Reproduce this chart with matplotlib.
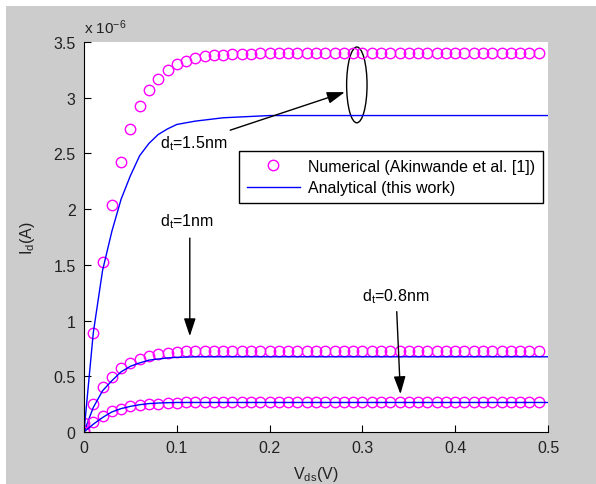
import numpy as np
import matplotlib
matplotlib.use('Agg')
import matplotlib.pyplot as plt
from matplotlib.patches import Ellipse, Rectangle

plt.rcParams['font.family'] = ['Liberation Sans', 'DejaVu Sans']
plt.rcParams['mathtext.default'] = 'regular'

# numerical points, Vds step 0.01 V, current in 1e-6 A
vds_num = np.round(np.arange(50) * 0.01, 2)
id_num_15 = [0.08, 0.89, 1.53, 2.04, 2.42, 2.72, 2.93, 3.07, 3.17, 3.25,
             3.30, 3.33, 3.36, 3.37, 3.38, 3.385, 3.39, 3.39, 3.395] + [3.40] * 31
id_num_10 = [0.02, 0.25, 0.40, 0.49, 0.57, 0.62, 0.655, 0.68, 0.70, 0.71,
             0.72, 0.725] + [0.73] * 38
id_num_08 = [0.0, 0.09, 0.14, 0.19, 0.21, 0.23, 0.245, 0.25, 0.255, 0.26,
             0.262] + [0.265] * 39

# analytical curves
vds_an = [0, 0.01, 0.02, 0.03, 0.04, 0.05, 0.06, 0.07, 0.08, 0.09, 0.10,
          0.12, 0.15, 0.2, 0.3, 0.5]
id_an_15 = [0, 0.89, 1.45, 1.80, 2.09, 2.30, 2.48, 2.59, 2.67, 2.72, 2.76,
            2.79, 2.82, 2.84, 2.84, 2.84]
id_an_10 = [0, 0.22, 0.37, 0.46, 0.54, 0.59, 0.62, 0.645, 0.655, 0.665, 0.67,
            0.675, 0.675, 0.675, 0.675, 0.675]
id_an_08 = [0, 0.07, 0.13, 0.18, 0.21, 0.23, 0.245, 0.255, 0.26, 0.263, 0.265,
            0.265, 0.265, 0.265, 0.265, 0.265]

W, H = 596, 485
fig = plt.figure(figsize=(W / 100, H / 100), dpi=100, facecolor='white')
fig.patches.append(Rectangle((6 / W, 0), 1 - 6 / W, 1 - 7 / H, transform=fig.transFigure,
                             facecolor='#cccccc', edgecolor='none', zorder=-10))

ax = fig.add_axes([84 / W, 52 / H, 464 / W, 390 / H])
ax.set_facecolor('white')

mk = dict(linestyle='none', marker='o', markersize=7.5, markerfacecolor='none',
          markeredgecolor='#ff00ff', markeredgewidth=1.0)
ax.plot(vds_num, id_num_15, label='Numerical (Akinwande et al. [1])', **mk)
ax.plot(vds_an, id_an_15, color='#0000ff', lw=1, label='Analytical (this work)')
ax.plot(vds_num, id_num_10, **mk)
ax.plot(vds_an, id_an_10, color='#0000ff', lw=1)
ax.plot(vds_num, id_num_08, **mk)
ax.plot(vds_an, id_an_08, color='#0000ff', lw=1)

ax.set_xlim(0, 0.5)
ax.set_ylim(0, 3.5)
ax.set_xticks([0, 0.1, 0.2, 0.3, 0.4, 0.5])
ax.set_xticklabels(['0', '0.1', '0.2', '0.3', '0.4', '0.5'])
ax.set_yticks([0, 0.5, 1, 1.5, 2, 2.5, 3, 3.5])
ax.set_yticklabels(['0', '0.5', '1', '1.5', '2', '2.5', '3', '3.5'])
ax.tick_params(direction='in', length=5, labelsize=11.5, colors='black',
               labelcolor='#222222', pad=6)
for s in ['top', 'right']:
    ax.spines[s].set_visible(False)
ax.text(0.0, 1.015, 'x 10$^{-6}$', transform=ax.transAxes, fontsize=11,
        ha='left', va='bottom', color='#222222')

ax.set_xlabel('V$_{ds}$(V)', fontsize=11.5, color='#222222', labelpad=6)
ax.set_ylabel('I$_d$(A)', fontsize=11.5, color='#222222', labelpad=12)

arrow = dict(arrowstyle='-|>,head_length=0.9,head_width=0.3', color='black',
             lw=1, mutation_scale=12, shrinkA=0, shrinkB=0)
ax.annotate('d$_t$=1.5nm', xy=(0.281, 3.05), xytext=(0.082, 2.60),
            fontsize=11.5, ha='left', va='center', arrowprops=arrow)
ax.annotate('', xy=(0.114, 0.86), xytext=(0.114, 1.74), arrowprops=arrow)
ax.text(0.082, 1.90, 'd$_t$=1nm', fontsize=11.5, ha='left', va='center')
ax.annotate('', xy=(0.341, 0.34), xytext=(0.337, 1.08), arrowprops=arrow)
ax.text(0.30, 1.22, 'd$_t$=0.8nm', fontsize=11.5, ha='left', va='center')

ax.add_patch(Ellipse((0.294, 3.115), 0.022, 0.68, facecolor='none',
                     edgecolor='black', lw=1))

leg = ax.legend(loc='upper left', bbox_to_anchor=(0.334, 0.7205), borderaxespad=0,
                fancybox=False, edgecolor='black', framealpha=1, fontsize=11.5,
                handlelength=3.3, handletextpad=0.5, borderpad=0.5, labelspacing=0.4,
                numpoints=1)
leg.get_frame().set_linewidth(1)

fig.savefig('out.png', dpi=100, facecolor=fig.get_facecolor())
